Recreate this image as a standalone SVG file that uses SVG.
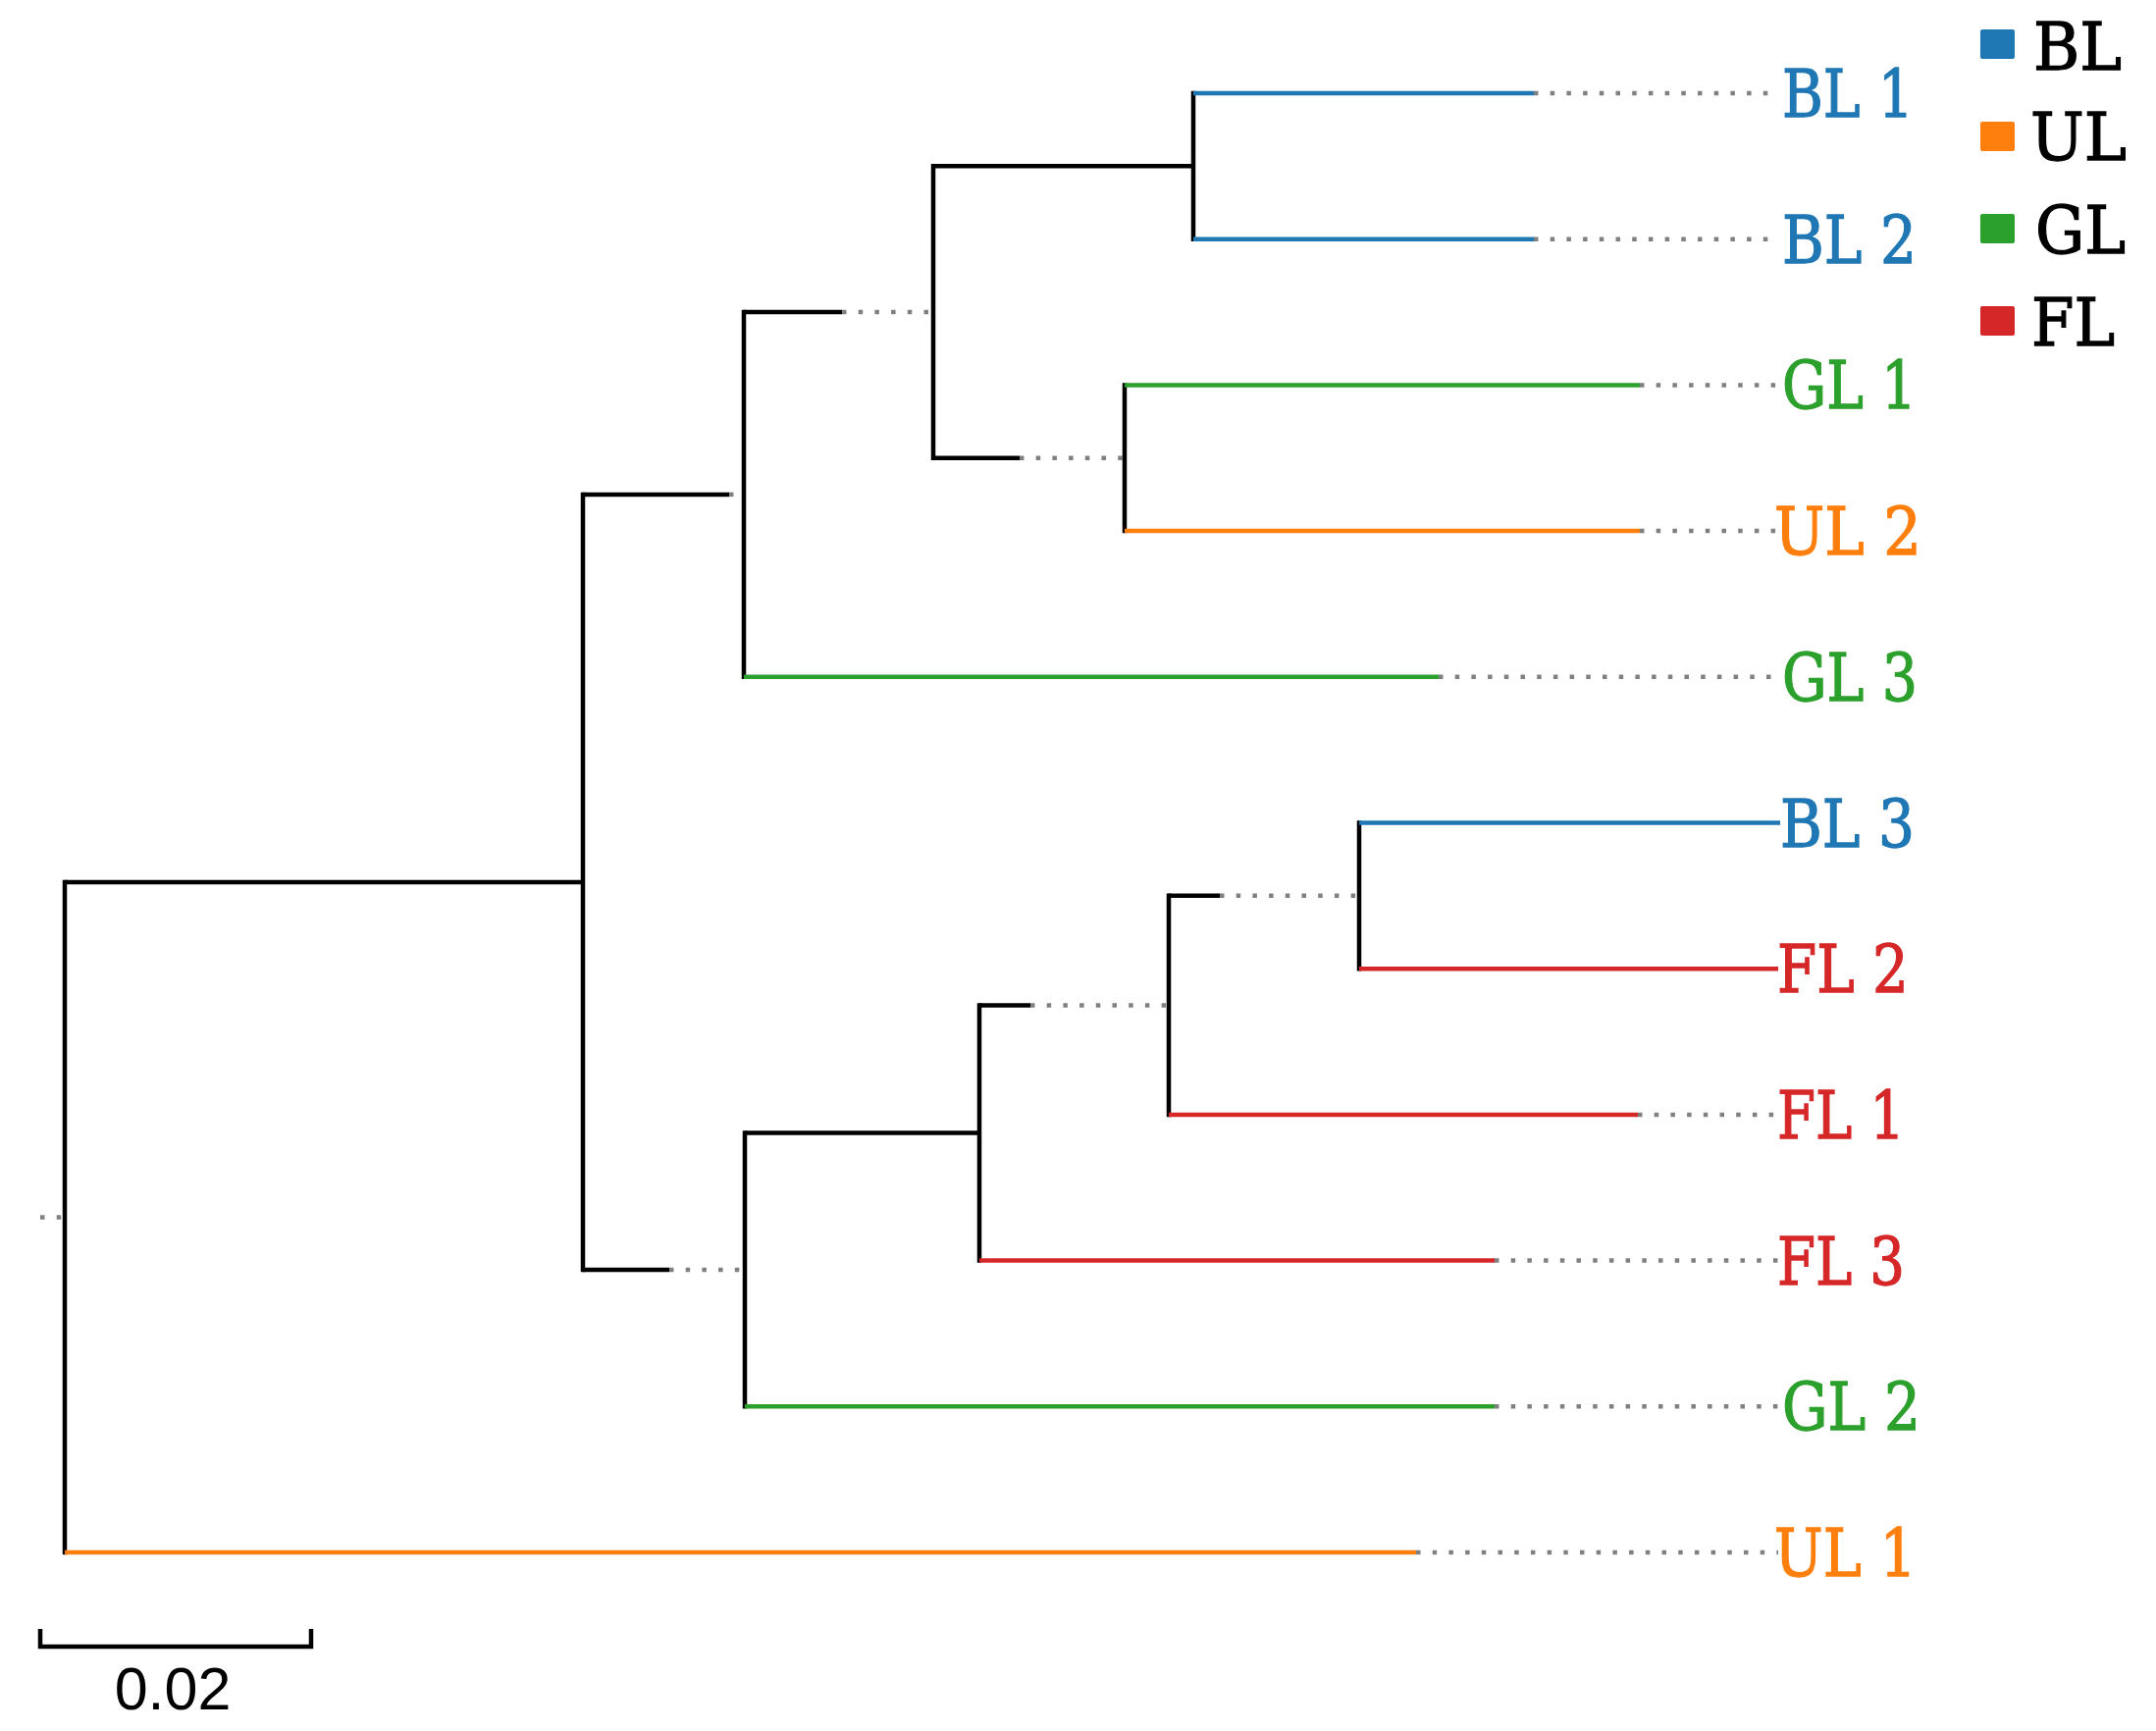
<svg xmlns="http://www.w3.org/2000/svg" width="2197" height="1764" viewBox="0 0 2197 1764">
<style>
.br{fill:none;stroke-width:4.5}
.k{stroke:#000}
.v{stroke:#000;stroke-linecap:square}
.b{stroke:#1f77b4}
.o{stroke:#ff7f0e}
.g{stroke:#2ca02c}
.r{stroke:#d62728}
.dt{fill:none;stroke:#808080;stroke-width:4.5;stroke-dasharray:4.5 12.2}
.lab{font-family:"DejaVu Serif","Liberation Serif",serif;font-size:68px;stroke-width:1.3}
.lb{fill:#1f77b4;stroke:#1f77b4}.lo{fill:#ff7f0e;stroke:#ff7f0e}.lg{fill:#2ca02c;stroke:#2ca02c}.lr{fill:#d62728;stroke:#d62728}
.leg{font-family:"DejaVu Serif","Liberation Serif",serif;font-size:68px;fill:#000;stroke:#000;stroke-width:1.3}
.sc{font-family:"Liberation Sans",Arial,sans-serif;font-size:61px;fill:#000}
</style>
<rect width="2197" height="1764" fill="#fff"/>
<g id="connectors">
  <line class="dt" x1="41" y1="1240.5" x2="66" y2="1240.5"/>
  <line class="br v" x1="66" y1="898.9" x2="66" y2="1582"/>
  <line class="br k" x1="66" y1="898.9" x2="594" y2="898.9"/>
  <line class="br o" x1="66" y1="1582" x2="1443" y2="1582"/>
  <line class="dt" x1="1443" y1="1582" x2="1812" y2="1582"/>
  <line class="br v" x1="594" y1="503.9" x2="594" y2="1293.9"/>
  <line class="br k" x1="594" y1="503.9" x2="743" y2="503.9"/>
  <line class="dt" x1="743" y1="503.9" x2="758" y2="503.9"/>
  <line class="br k" x1="594" y1="1293.9" x2="682" y2="1293.9"/>
  <line class="dt" x1="682" y1="1293.9" x2="759" y2="1293.9"/>
  <line class="br v" x1="758" y1="318.05" x2="758" y2="689.8"/>
  <line class="br k" x1="758" y1="318.05" x2="858" y2="318.05"/>
  <line class="dt" x1="858" y1="318.05" x2="951" y2="318.05"/>
  <line class="br g" x1="758" y1="689.8" x2="1466" y2="689.8"/>
  <line class="dt" x1="1466" y1="689.8" x2="1812" y2="689.8"/>
  <line class="br v" x1="951" y1="169.35" x2="951" y2="466.75"/>
  <line class="br k" x1="951" y1="169.35" x2="1216" y2="169.35"/>
  <line class="br k" x1="951" y1="466.75" x2="1039" y2="466.75"/>
  <line class="dt" x1="1039" y1="466.75" x2="1146" y2="466.75"/>
  <line class="br v" x1="1216" y1="95" x2="1216" y2="243.7"/>
  <line class="br b" x1="1216" y1="95" x2="1563" y2="95"/>
  <line class="dt" x1="1563" y1="95" x2="1812" y2="95"/>
  <line class="br b" x1="1216" y1="243.7" x2="1563" y2="243.7"/>
  <line class="dt" x1="1563" y1="243.7" x2="1812" y2="243.7"/>
  <line class="br v" x1="1146" y1="392.4" x2="1146" y2="541.1"/>
  <line class="br g" x1="1146" y1="392.4" x2="1671" y2="392.4"/>
  <line class="dt" x1="1671" y1="392.4" x2="1812" y2="392.4"/>
  <line class="br o" x1="1146" y1="541.1" x2="1671" y2="541.1"/>
  <line class="dt" x1="1671" y1="541.1" x2="1812" y2="541.1"/>
  <line class="br v" x1="759" y1="1154.5" x2="759" y2="1433.3"/>
  <line class="br k" x1="759" y1="1154.5" x2="998" y2="1154.5"/>
  <line class="br g" x1="759" y1="1433.3" x2="1523" y2="1433.3"/>
  <line class="dt" x1="1523" y1="1433.3" x2="1812" y2="1433.3"/>
  <line class="br v" x1="998" y1="1024.4" x2="998" y2="1284.6"/>
  <line class="br k" x1="998" y1="1024.4" x2="1050" y2="1024.4"/>
  <line class="dt" x1="1050" y1="1024.4" x2="1191" y2="1024.4"/>
  <line class="br r" x1="998" y1="1284.6" x2="1523" y2="1284.6"/>
  <line class="dt" x1="1523" y1="1284.6" x2="1812" y2="1284.6"/>
  <line class="br v" x1="1191" y1="912.85" x2="1191" y2="1135.9"/>
  <line class="br k" x1="1191" y1="912.85" x2="1243" y2="912.85"/>
  <line class="dt" x1="1243" y1="912.85" x2="1385" y2="912.85"/>
  <line class="br r" x1="1191" y1="1135.9" x2="1669" y2="1135.9"/>
  <line class="dt" x1="1669" y1="1135.9" x2="1812" y2="1135.9"/>
  <line class="br v" x1="1385" y1="838.5" x2="1385" y2="987.2"/>
  <line class="br b" x1="1385" y1="838.5" x2="1814" y2="838.5"/>
  <line class="br r" x1="1385" y1="987.2" x2="1812" y2="987.2"/>
</g>
<g id="leaf-BL1"><text class="lab lb" x="1816" y="119" textLength="134" lengthAdjust="spacingAndGlyphs">BL 1</text></g>
<g id="leaf-BL2"><text class="lab lb" x="1816" y="267.7" textLength="137" lengthAdjust="spacingAndGlyphs">BL 2</text></g>
<g id="leaf-GL1"><text class="lab lg" x="1816" y="416.4" textLength="137" lengthAdjust="spacingAndGlyphs">GL 1</text></g>
<g id="leaf-UL2"><text class="lab lo" x="1808" y="565.1" textLength="150" lengthAdjust="spacingAndGlyphs">UL 2</text></g>
<g id="leaf-GL3"><text class="lab lg" x="1816" y="713.8" textLength="138" lengthAdjust="spacingAndGlyphs">GL 3</text></g>
<g id="leaf-BL3"><text class="lab lb" x="1814" y="862.5" textLength="137" lengthAdjust="spacingAndGlyphs">BL 3</text></g>
<g id="leaf-FL2"><text class="lab lr" x="1811" y="1011.2" textLength="134" lengthAdjust="spacingAndGlyphs">FL 2</text></g>
<g id="leaf-FL1"><text class="lab lr" x="1811" y="1159.9" textLength="130" lengthAdjust="spacingAndGlyphs">FL 1</text></g>
<g id="leaf-FL3"><text class="lab lr" x="1811" y="1308.6" textLength="130" lengthAdjust="spacingAndGlyphs">FL 3</text></g>
<g id="leaf-GL2"><text class="lab lg" x="1816" y="1457.3" textLength="141" lengthAdjust="spacingAndGlyphs">GL 2</text></g>
<g id="leaf-UL1"><text class="lab lo" x="1808" y="1606" textLength="145" lengthAdjust="spacingAndGlyphs">UL 1</text></g>
<g id="legend">
  <rect x="2018" y="30" width="35" height="30" rx="2" fill="#1f77b4"/>
  <text class="leg" x="2072" y="71" textLength="90" lengthAdjust="spacingAndGlyphs">BL</text>
  <rect x="2018" y="124" width="35" height="30" rx="2" fill="#ff7f0e"/>
  <text class="leg" x="2069" y="163" textLength="98" lengthAdjust="spacingAndGlyphs">UL</text>
  <rect x="2018" y="218" width="35" height="30" rx="2" fill="#2ca02c"/>
  <text class="leg" x="2074" y="258" textLength="92" lengthAdjust="spacingAndGlyphs">GL</text>
  <rect x="2018" y="312" width="35" height="30" rx="2" fill="#d62728"/>
  <text class="leg" x="2070" y="352" textLength="85" lengthAdjust="spacingAndGlyphs">FL</text>
</g>
<g id="scale-bar">
  <path d="M41 1660 V1678 H317 V1660" fill="none" stroke="#000" stroke-width="4.5"/>
  <text class="sc" x="176" y="1742" text-anchor="middle">0.02</text>
</g>
</svg>
